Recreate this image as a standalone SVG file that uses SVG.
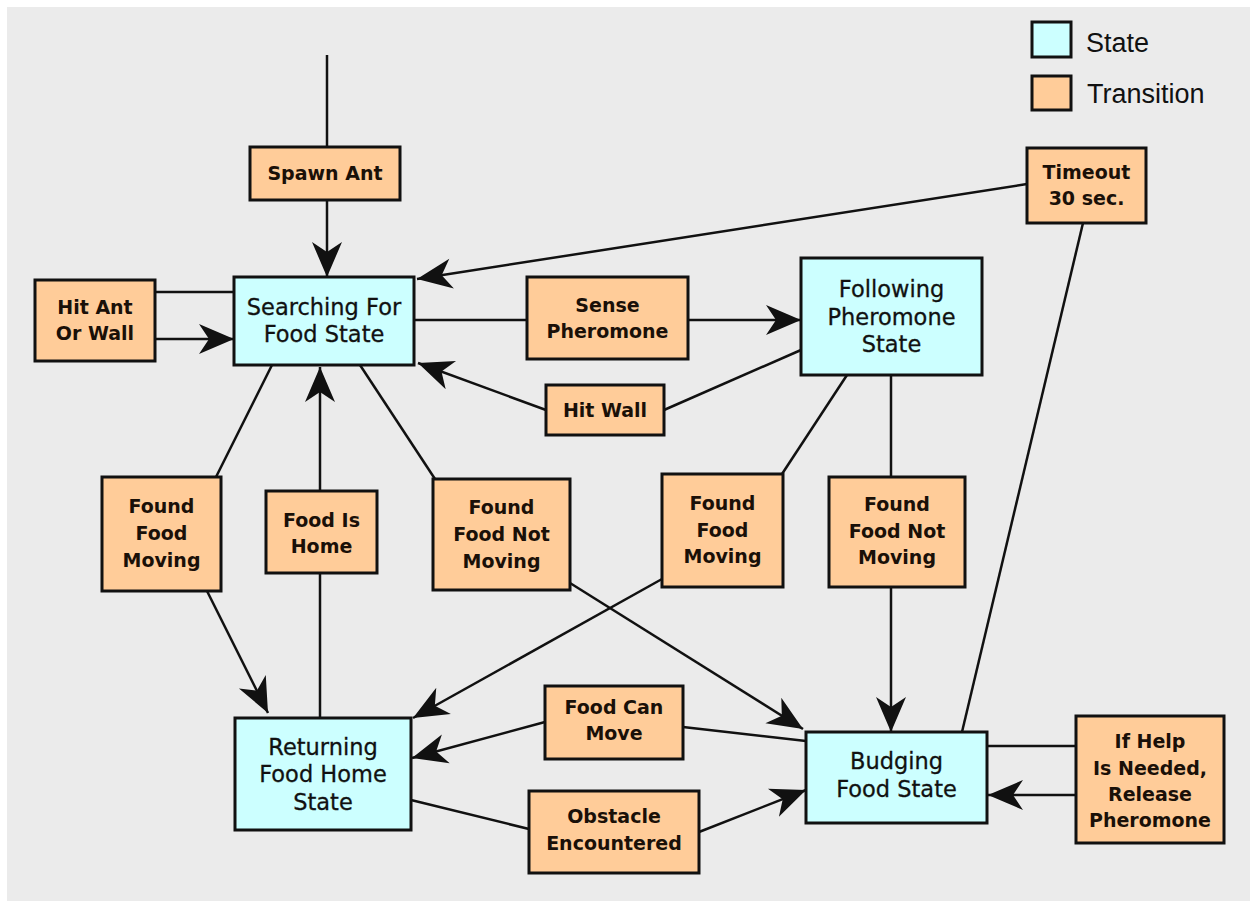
<svg xmlns="http://www.w3.org/2000/svg" width="1250" height="901" viewBox="0 0 1250 901">
<defs>
<marker id="arr" markerUnits="userSpaceOnUse" markerWidth="40" markerHeight="40" viewBox="-30 -15 32 30" refX="0" refY="0" orient="auto">
<path d="M0,0 L-28,-12 L-20,0 L-28,12 Z" fill="#111"/>
</marker>
</defs>
<style>
.st{fill:#ccffff;stroke:#111;stroke-width:3}
.tr{fill:#ffcc99;stroke:#111;stroke-width:3}
.ts{font-family:"DejaVu Sans",Verdana,sans-serif;font-size:22.5px;fill:#111;text-anchor:middle;stroke:#111;stroke-width:0.3}
.tt{font-family:"DejaVu Sans",Verdana,sans-serif;font-size:19px;font-weight:bold;fill:#1a1008;text-anchor:middle}
.lg{font-family:"Liberation Sans",Arial,sans-serif;font-size:27px;fill:#111}
.c line{stroke:#111;stroke-width:2.5;fill:none}
.c .a{marker-end:url(#arr)}
</style>
<rect x="0" y="0" width="1250" height="901" fill="#ffffff"/>
<rect x="7" y="7" width="1243" height="894" fill="#ebebeb"/>

<g id="legend">
<rect x="1032" y="22" width="39" height="35" class="st"/>
<text x="1086" y="52" class="lg">State</text>
<rect x="1032" y="76" width="39" height="34" class="tr"/>
<text x="1087" y="103" class="lg">Transition</text>
</g>

<g class="c" id="connectors">
<line x1="327" y1="55" x2="327" y2="147"/>
<line x1="327" y1="200" x2="327" y2="277" class="a"/>
<line x1="234" y1="292" x2="155" y2="292"/>
<line x1="155" y1="339" x2="234" y2="339" class="a"/>
<line x1="1027" y1="184" x2="417" y2="279" class="a"/>
<line x1="414" y1="320" x2="527" y2="320"/>
<line x1="688" y1="320" x2="801" y2="320" class="a"/>
<line x1="801" y1="350" x2="664" y2="410"/>
<line x1="546" y1="410" x2="418" y2="363" class="a"/>
<line x1="272" y1="365" x2="216" y2="477"/>
<line x1="207" y1="591" x2="268" y2="713" class="a"/>
<line x1="320" y1="718" x2="320" y2="573"/>
<line x1="320" y1="491" x2="320" y2="367" class="a"/>
<line x1="360" y1="365" x2="435" y2="479"/>
<line x1="570" y1="583" x2="803" y2="729" class="a"/>
<line x1="847" y1="375" x2="782" y2="474"/>
<line x1="662" y1="579" x2="413" y2="718" class="a"/>
<line x1="891" y1="375" x2="891" y2="477"/>
<line x1="891" y1="587" x2="891" y2="732" class="a"/>
<line x1="806" y1="741" x2="683" y2="727"/>
<line x1="545" y1="722" x2="412" y2="758" class="a"/>
<line x1="411" y1="800" x2="529" y2="829"/>
<line x1="699" y1="832" x2="806" y2="790" class="a"/>
<line x1="962" y1="732" x2="1083" y2="223"/>
<line x1="987" y1="746" x2="1076" y2="746"/>
<line x1="1076" y1="795" x2="988" y2="795" class="a"/>
</g>

<g id="spawn_ant">
<rect x="250" y="147" width="150" height="53" class="tr"/>
<text x="325" y="180" class="tt">Spawn Ant</text>
</g>
<g id="hit_ant_or_wall">
<rect x="35" y="280" width="120" height="81" class="tr"/>
<text x="95" y="314" class="tt">Hit Ant</text>
<text x="95" y="340" class="tt">Or Wall</text>
</g>
<g id="searching">
<rect x="234" y="277" width="180" height="88" class="st"/>
<text x="324" y="315" class="ts">Searching For</text>
<text x="324" y="342" class="ts">Food State</text>
</g>
<g id="sense_pheromone">
<rect x="527" y="277" width="161" height="82" class="tr"/>
<text x="607.5" y="312" class="tt">Sense</text>
<text x="607.5" y="338" class="tt">Pheromone</text>
</g>
<g id="following">
<rect x="801" y="258" width="181" height="117" class="st"/>
<text x="891.5" y="297" class="ts">Following</text>
<text x="891.5" y="325" class="ts">Pheromone</text>
<text x="891.5" y="352" class="ts">State</text>
</g>
<g id="hit_wall">
<rect x="546" y="385" width="118" height="50" class="tr"/>
<text x="605" y="417" class="tt">Hit Wall</text>
</g>
<g id="timeout">
<rect x="1027" y="148" width="119" height="75" class="tr"/>
<text x="1086.5" y="179" class="tt">Timeout</text>
<text x="1086.5" y="205" class="tt">30 sec.</text>
</g>
<g id="found_food_moving_left">
<rect x="102" y="477" width="119" height="114" class="tr"/>
<text x="161.5" y="513" class="tt">Found</text>
<text x="161.5" y="540" class="tt">Food</text>
<text x="161.5" y="567" class="tt">Moving</text>
</g>
<g id="food_is_home">
<rect x="266" y="491" width="111" height="82" class="tr"/>
<text x="321.5" y="527" class="tt">Food Is</text>
<text x="321.5" y="553" class="tt">Home</text>
</g>
<g id="found_food_not_moving_left">
<rect x="433" y="479" width="137" height="111" class="tr"/>
<text x="501.5" y="514" class="tt">Found</text>
<text x="501.5" y="541" class="tt">Food Not</text>
<text x="501.5" y="568" class="tt">Moving</text>
</g>
<g id="found_food_moving_right">
<rect x="662" y="474" width="121" height="113" class="tr"/>
<text x="722.5" y="510" class="tt">Found</text>
<text x="722.5" y="537" class="tt">Food</text>
<text x="722.5" y="563" class="tt">Moving</text>
</g>
<g id="found_food_not_moving_right">
<rect x="829" y="477" width="136" height="110" class="tr"/>
<text x="897" y="511" class="tt">Found</text>
<text x="897" y="538" class="tt">Food Not</text>
<text x="897" y="564" class="tt">Moving</text>
</g>
<g id="returning">
<rect x="235" y="718" width="176" height="112" class="st"/>
<text x="323" y="755" class="ts">Returning</text>
<text x="323" y="782" class="ts">Food Home</text>
<text x="323" y="810" class="ts">State</text>
</g>
<g id="food_can_move">
<rect x="545" y="686" width="138" height="73" class="tr"/>
<text x="614" y="714" class="tt">Food Can</text>
<text x="614" y="740" class="tt">Move</text>
</g>
<g id="obstacle_encountered">
<rect x="529" y="791" width="170" height="82" class="tr"/>
<text x="614" y="823" class="tt">Obstacle</text>
<text x="614" y="850" class="tt">Encountered</text>
</g>
<g id="budging">
<rect x="806" y="732" width="181" height="91" class="st"/>
<text x="896.5" y="769" class="ts">Budging</text>
<text x="896.5" y="797" class="ts">Food State</text>
</g>
<g id="if_help">
<rect x="1076" y="716" width="148" height="127" class="tr"/>
<text x="1150" y="748" class="tt">If Help</text>
<text x="1150" y="775" class="tt">Is Needed,</text>
<text x="1150" y="801" class="tt">Release</text>
<text x="1150" y="827" class="tt">Pheromone</text>
</g>
</svg>
